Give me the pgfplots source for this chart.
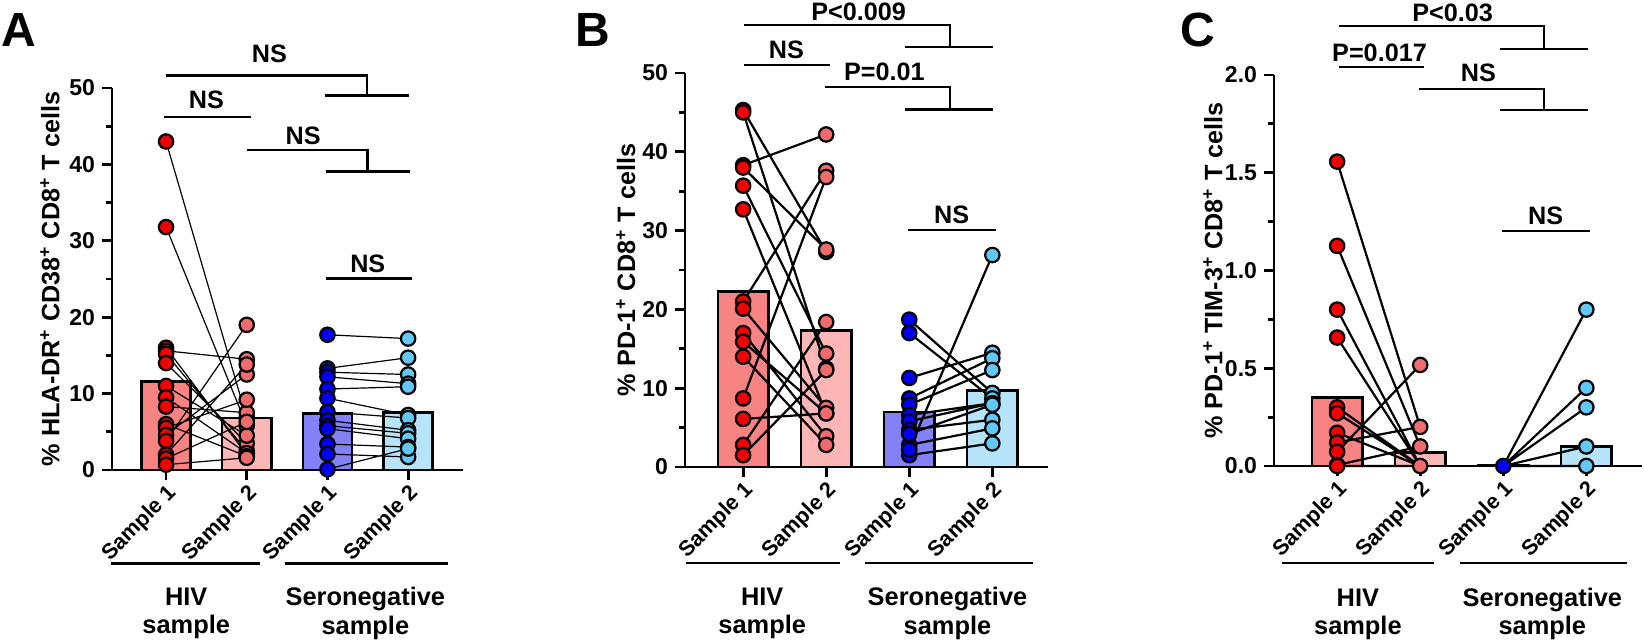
\documentclass[border=0pt]{standalone}
\usepackage{pgfplots}
\pgfplotsset{compat=1.18}
\usepackage{fontspec}
\setmainfont{Liberation Sans}
\definecolor{barA}{RGB}{248,131,131}
\definecolor{barB}{RGB}{252,182,182}
\definecolor{barC}{RGB}{130,130,246}
\definecolor{barD}{RGB}{182,228,250}
\definecolor{dotA}{RGB}{240,0,0}
\definecolor{dotB}{RGB}{240,108,108}
\definecolor{dotC}{RGB}{0,0,240}
\definecolor{dotD}{RGB}{98,200,245}
\newcommand{\sig}{\fontsize{12.6}{14}\selectfont\bfseries}
\newcommand{\grp}{\fontsize{12.7}{14.2}\selectfont\bfseries}
\pgfplotsset{
  myaxis/.style={
    scale only axis,
    axis x line*=bottom, axis y line*=left,
    axis line style={line width=1.4pt},
    clip=false,
    xtick={0,1,2,3},
    xticklabels={Sample 1,Sample 2,Sample 1,Sample 2},
    x tick label style={rotate=45, anchor=north east, font=\fontsize{10.8}{12}\selectfont\bfseries, inner sep=1pt},
    y tick label style={font=\fontsize{11.5}{13}\selectfont\bfseries},
    /pgf/number format/assume math mode=true,
    tick align=outside,
    major tick length=5pt, minor tick length=3pt,
    every tick/.style={black, line width=1.4pt},
    minor y tick num=1,
    ylabel style={font=\fontsize{12.6}{14}\selectfont\bfseries, anchor=center},
  },
  bar/.style={ybar, bar width=0.61, bar shift=0pt, draw=black, line width=1.3pt, fill=#1},
  dots/.style={only marks, mark=*, mark size=3.6pt, mark options={fill=#1, draw=black, line width=1.1pt}},
  pairs/.style={black, line width=#1, mark=none, unbounded coords=jump},
}
\begin{document}
\begin{tikzpicture}
% ---------------- Panel A ----------------
\begin{axis}[myaxis, at={(56pt,86.5pt)}, anchor=south west,
  width=175.5pt, height=191pt,
  xmin=-0.67, xmax=3.68, ymin=0, ymax=50, ytick={0,10,20,30,40,50},
  ylabel={\% HLA-DR\textsuperscript{+} CD38\textsuperscript{+} CD8\textsuperscript{+} T cells},
  ylabel style={at={(axis description cs:-0.177,0.5)}}]
\addplot[bar=barA] coordinates {(0,11.6)};
\addplot[bar=barB] coordinates {(1,6.8)};
\addplot[bar=barC] coordinates {(2,7.4)};
\addplot[bar=barD] coordinates {(3,7.5)};
\addplot[pairs=0.6pt] coordinates {
(0,43.0)(1,6.8)(nan,nan)(0,31.8)(1,5.8)(nan,nan)(0,16.0)(1,2.0)(nan,nan)(0,15.6)(1,14.5)(nan,nan)
(0,15.2)(1,2.5)(nan,nan)(0,14.0)(1,3.5)(nan,nan)(0,11.0)(1,4.5)(nan,nan)(0,9.5)(1,2.2)(nan,nan)
(0,8.3)(1,7.5)(nan,nan)(0,6.0)(1,1.8)(nan,nan)(0,5.5)(1,9.2)(nan,nan)(0,4.6)(1,12.5)(nan,nan)
(0,3.8)(1,19.0)(nan,nan)(0,2.0)(1,13.8)(nan,nan)(0,1.5)(1,6.3)(nan,nan)(0,0.7)(1,1.6)};
\addplot[pairs=0.6pt] coordinates {
(2,17.7)(3,17.2)(nan,nan)(2,13.3)(3,14.7)(nan,nan)(2,12.8)(3,12.5)(nan,nan)(2,12.2)(3,11.3)(nan,nan)
(2,10.6)(3,10.9)(nan,nan)(2,9.4)(3,7.2)(nan,nan)(2,7.6)(3,6.8)(nan,nan)(2,6.5)(3,5.2)(nan,nan)
(2,5.8)(3,4.8)(nan,nan)(2,5.4)(3,4.1)(nan,nan)(2,3.4)(3,3.0)(nan,nan)(2,2.1)(3,1.7)(nan,nan)(2,0.1)(3,2.8)};
\addplot[dots=dotA] coordinates {(0,43.0)(0,31.8)(0,16.0)(0,15.6)(0,15.2)(0,14.0)(0,11.0)(0,9.5)(0,8.3)(0,6.0)(0,5.5)(0,4.6)(0,3.8)(0,2.0)(0,1.5)(0,0.7)};
\addplot[dots=dotB] coordinates {(1,6.8)(1,5.8)(1,2.0)(1,14.5)(1,2.5)(1,3.5)(1,4.5)(1,2.2)(1,7.5)(1,1.8)(1,9.2)(1,12.5)(1,19.0)(1,13.8)(1,6.3)(1,1.6)};
\addplot[dots=dotC] coordinates {(2,17.7)(2,13.3)(2,12.8)(2,12.2)(2,10.6)(2,9.4)(2,7.6)(2,6.5)(2,5.8)(2,5.4)(2,3.4)(2,2.1)(2,0.1)};
\addplot[dots=dotD] coordinates {(3,17.2)(3,14.7)(3,12.5)(3,11.3)(3,10.9)(3,7.2)(3,6.8)(3,5.2)(3,4.8)(3,4.1)(3,3.0)(3,1.7)(3,2.8)};
% brackets
\draw[line width=1.3pt] (axis cs:0,51.6) -- (axis cs:2.49,51.6) -- (axis cs:2.49,49.0);
\draw[line width=1.3pt] (axis cs:1.97,49.0) -- (axis cs:3.01,49.0);
\node[font=\sig] at (axis cs:1.28,54.5) {NS};
\draw[line width=1.3pt] (axis cs:-0.02,46.2) -- (axis cs:1.05,46.2);
\node[font=\sig] at (axis cs:0.50,48.4) {NS};
\draw[line width=1.3pt] (axis cs:1.0,41.9) -- (axis cs:2.5,41.9) -- (axis cs:2.5,39.1);
\draw[line width=1.3pt] (axis cs:1.98,39.1) -- (axis cs:3.02,39.1);
\node[font=\sig] at (axis cs:1.70,43.7) {NS};
\draw[line width=1.3pt] (axis cs:1.98,25.1) -- (axis cs:3.05,25.1);
\node[font=\sig] at (axis cs:2.5,27.0) {NS};
% groups
\draw[line width=1.3pt] (axis cs:-0.68,-12.2) -- (axis cs:1.16,-12.2);
\draw[line width=1.3pt] (axis cs:1.47,-12.2) -- (axis cs:3.49,-12.2);
\node[font=\grp, align=center] at (axis cs:0.25,-18.8) {HIV\\sample};
\node[font=\grp, align=center] at (axis cs:2.47,-18.8) {Seronegative\\sample};
\end{axis}
% ---------------- Panel B ----------------
\begin{axis}[myaxis, at={(342.5pt,88pt)}, anchor=south west,
  width=181.5pt, height=197pt,
  xmin=-0.70, xmax=3.67, ymin=0, ymax=50, ytick={0,10,20,30,40,50},
  ylabel={\% PD-1\textsuperscript{+} CD8\textsuperscript{+} T cells},
  ylabel style={at={(axis description cs:-0.163,0.5)}}]
\addplot[bar=barA] coordinates {(0,22.3)};
\addplot[bar=barB] coordinates {(1,17.3)};
\addplot[bar=barC] coordinates {(2,7.0)};
\addplot[bar=barD] coordinates {(3,9.7)};
\addplot[pairs=1.1pt] coordinates {
(0,45.3)(1,27.3)(nan,nan)(0,45.0)(1,12.5)(nan,nan)(0,38.3)(1,42.2)(nan,nan)(0,38.0)(1,27.6)(nan,nan)
(0,35.7)(1,14.4)(nan,nan)(0,32.7)(1,6.8)(nan,nan)(0,21.0)(1,37.6)(nan,nan)(0,20.1)(1,7.5)(nan,nan)
(0,17.0)(1,3.9)(nan,nan)(0,15.9)(1,6.8)(nan,nan)(0,14.0)(1,2.8)(nan,nan)(0,8.7)(1,36.8)(nan,nan)
(0,6.1)(1,6.8)(nan,nan)(0,2.8)(1,18.4)(nan,nan)(0,1.5)(1,12.3)};
\addplot[pairs=1.1pt] coordinates {
(2,18.7)(3,9.4)(nan,nan)(2,17.0)(3,8.7)(nan,nan)(2,11.3)(3,14.5)(nan,nan)(2,8.7)(3,13.8)(nan,nan)
(2,7.9)(3,12.3)(nan,nan)(2,6.6)(3,8.1)(nan,nan)(2,5.8)(3,8.1)(nan,nan)(2,4.7)(3,6.0)(nan,nan)
(2,2.8)(3,4.9)(nan,nan)(2,1.5)(3,3.0)(nan,nan)(2,2.2)(3,26.9)(nan,nan)(2,4.2)(3,7.9)};
\addplot[dots=dotA] coordinates {(0,45.3)(0,45.0)(0,38.3)(0,38.0)(0,35.7)(0,32.7)(0,21.0)(0,20.1)(0,17.0)(0,15.9)(0,14.0)(0,8.7)(0,6.1)(0,2.8)(0,1.5)};
\addplot[dots=dotB] coordinates {(1,27.3)(1,12.5)(1,42.2)(1,27.6)(1,14.4)(1,6.8)(1,37.6)(1,7.5)(1,3.9)(1,6.8)(1,2.8)(1,36.8)(1,18.4)(1,12.3)};
\addplot[dots=dotC] coordinates {(2,18.7)(2,17.0)(2,11.3)(2,8.7)(2,7.9)(2,6.6)(2,5.8)(2,4.7)(2,2.8)(2,1.5)(2,2.2)(2,4.2)};
\addplot[dots=dotD] coordinates {(3,9.4)(3,8.7)(3,14.5)(3,13.8)(3,12.3)(3,8.1)(3,6.0)(3,4.9)(3,3.0)(3,26.9)(3,7.9)};
\draw[line width=1.3pt] (axis cs:0.01,56.1) -- (axis cs:2.49,56.1) -- (axis cs:2.49,53.3);
\draw[line width=1.3pt] (axis cs:1.95,53.3) -- (axis cs:3.01,53.3);
\node[font=\sig] at (axis cs:1.39,57.8) {P<0.009};
\draw[line width=1.3pt] (axis cs:0.01,51.0) -- (axis cs:1.04,51.0);
\node[font=\sig] at (axis cs:0.52,52.9) {NS};
\draw[line width=1.3pt] (axis cs:0.99,48.2) -- (axis cs:2.49,48.2) -- (axis cs:2.49,45.4);
\draw[line width=1.3pt] (axis cs:1.95,45.4) -- (axis cs:3.01,45.4);
\node[font=\sig] at (axis cs:1.70,50.1) {P=0.01};
\draw[line width=1.3pt] (axis cs:1.98,30.1) -- (axis cs:3.04,30.1);
\node[font=\sig] at (axis cs:2.51,32.0) {NS};
\draw[line width=1.3pt] (axis cs:-0.69,-12.2) -- (axis cs:1.16,-12.2);
\draw[line width=1.3pt] (axis cs:1.47,-12.2) -- (axis cs:3.49,-12.2);
\node[font=\grp, align=center] at (axis cs:0.23,-18.6) {HIV\\sample};
\node[font=\grp, align=center] at (axis cs:2.46,-18.6) {Seronegative\\sample};
\end{axis}
% ---------------- Panel C ----------------
\begin{axis}[myaxis, at={(637pt,88.5pt)}, anchor=south west,
  width=184pt, height=195.5pt,
  xmin=-0.76, xmax=3.67, ymin=0, ymax=2, ytick={0,0.5,1,1.5,2},
  yticklabel style={/pgf/number format/.cd, fixed, fixed zerofill, precision=1},
  ylabel={\% PD-1\textsuperscript{+} TIM-3\textsuperscript{+} CD8\textsuperscript{+} T cells},
  ylabel style={at={(axis description cs:-0.166,0.5)}}]
\addplot[bar=barA] coordinates {(0,0.35)};
\addplot[bar=barB] coordinates {(1,0.068)};
\addplot[bar=barC] coordinates {(2,0.005)};
\addplot[bar=barD] coordinates {(3,0.1)};
\addplot[pairs=1.1pt] coordinates {
(0,1.557)(1,0.20)(nan,nan)(0,1.126)(1,0.10)(nan,nan)(0,0.80)(1,0.0)(nan,nan)(0,0.657)(1,0.0)(nan,nan)
(0,0.30)(1,0.0)(nan,nan)(0,0.27)(1,0.0)(nan,nan)(0,0.17)(1,0.0)(nan,nan)(0,0.12)(1,0.20)(nan,nan)
(0,0.073)(1,0.517)(nan,nan)(0,0.005)(1,0.10)(nan,nan)(0,0.0)(1,0.0)};
\addplot[pairs=1.1pt] coordinates {
(2,0)(3,0.8)(nan,nan)(2,0)(3,0.4)(nan,nan)(2,0)(3,0.3)(nan,nan)(2,0)(3,0.1)(nan,nan)(2,0)(3,0.0)};
\addplot[dots=dotA] coordinates {(0,1.557)(0,1.126)(0,0.80)(0,0.657)(0,0.30)(0,0.27)(0,0.17)(0,0.12)(0,0.073)(0,0.005)(0,0.0)};
\addplot[dots=dotB] coordinates {(1,0.20)(1,0.10)(1,0.0)(1,0.517)};
\addplot[dots=dotC] coordinates {(2,0.0)};
\addplot[dots=dotD] coordinates {(3,0.8)(3,0.4)(3,0.3)(3,0.1)(3,0.0)};
\draw[line width=1.3pt] (axis cs:0.02,2.251) -- (axis cs:2.49,2.251) -- (axis cs:2.49,2.133);
\draw[line width=1.3pt] (axis cs:1.96,2.133) -- (axis cs:3.02,2.133);
\node[font=\sig] at (axis cs:1.39,2.317) {P<0.03};
\draw[line width=1.3pt] (axis cs:0.02,2.041) -- (axis cs:1.04,2.041);
\node[font=\sig] at (axis cs:0.51,2.113) {P=0.017};
\draw[line width=1.3pt] (axis cs:0.99,1.928) -- (axis cs:2.49,1.928) -- (axis cs:2.49,1.821);
\draw[line width=1.3pt] (axis cs:1.96,1.821) -- (axis cs:3.02,1.821);
\node[font=\sig] at (axis cs:1.70,2.010) {NS};
\draw[line width=1.3pt] (axis cs:1.98,1.202) -- (axis cs:3.04,1.202);
\node[font=\sig] at (axis cs:2.51,1.279) {NS};
\draw[line width=1.3pt] (axis cs:-0.66,-0.496) -- (axis cs:1.16,-0.496);
\draw[line width=1.3pt] (axis cs:1.48,-0.496) -- (axis cs:3.49,-0.496);
\node[font=\grp, align=center] at (axis cs:0.25,-0.758) {HIV\\sample};
\node[font=\grp, align=center] at (axis cs:2.47,-0.758) {Seronegative\\sample};
\end{axis}
% panel letters
\node[font=\fontsize{24}{24}\selectfont\bfseries] at (9.5pt,306.5pt) {A};
\node[font=\fontsize{24}{24}\selectfont\bfseries] at (296.5pt,306.5pt) {B};
\node[font=\fontsize{24}{24}\selectfont\bfseries] at (599pt,306.5pt) {C};
\pgfresetboundingbox
\path[use as bounding box] (0,0) rectangle (822pt,321.5pt);
\end{tikzpicture}
\end{document}
